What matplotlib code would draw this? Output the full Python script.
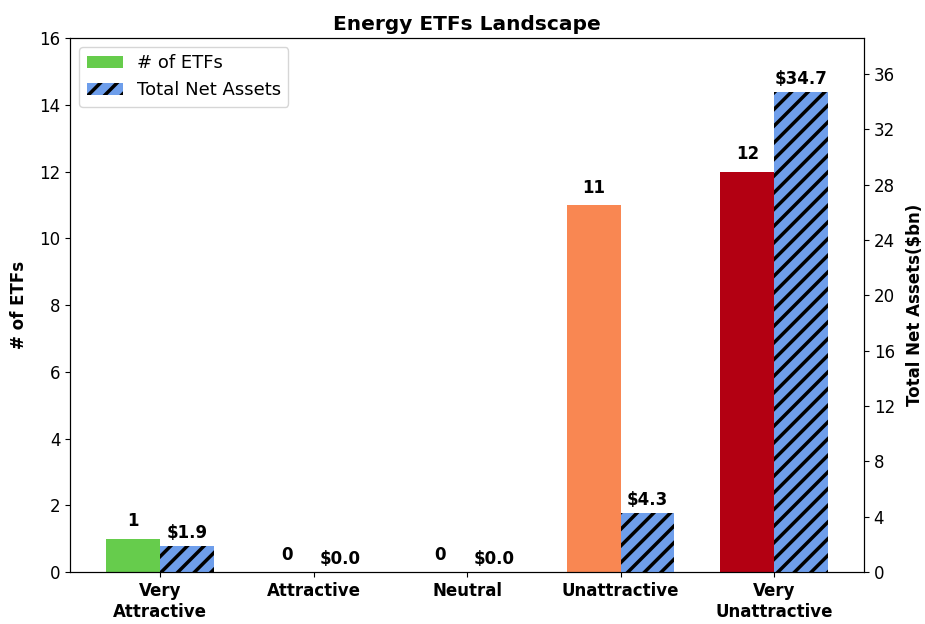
import matplotlib
matplotlib.use("Agg")
import matplotlib.pyplot as plt
import numpy as np

categories = ["Very\nAttractive", "Attractive", "Neutral", "Unattractive", "Very\nUnattractive"]
num_etfs = [1, 0, 0, 11, 12]
net_assets = [1.9, 0.0, 0.0, 4.3, 34.7]
bar_colors = ["#66cc4c", "#66cc4c", "#66cc4c", "#f98752", "#b30012"]

plt.rcParams["hatch.linewidth"] = 2.5
fig, ax = plt.subplots(figsize=(9.25, 6.24), dpi=100)
ax2 = ax.twinx()

x = np.arange(len(categories))
w = 0.35
b1 = ax.bar(x - w / 2, num_etfs, w, color=bar_colors, label="# of ETFs")
b2 = ax2.bar(x + w / 2, net_assets, w, color="#6e9eeb", hatch="//",
             edgecolor="black", linewidth=0, label="Total Net Assets")

for rect, v in zip(b1, num_etfs):
    ax.text(rect.get_x() + rect.get_width() / 2, v + 0.25, str(v),
            ha="center", va="bottom", fontsize=12, fontweight="bold")
for rect, v in zip(b2, net_assets):
    ax2.text(rect.get_x() + rect.get_width() / 2, v + 0.3, "$%.1f" % v,
             ha="center", va="bottom", fontsize=12, fontweight="bold")

ax.set_ylim(0, 16)
ax2.set_ylim(0, max(net_assets) * 1.112)
ax2.set_yticks(np.arange(0, 37, 4))
ax.set_xticks(x)
ax.set_xticklabels(categories, fontsize=12, fontweight="bold")
ax.tick_params(axis="y", labelsize=12)
ax2.tick_params(axis="y", labelsize=12)
ax.set_ylabel("# of ETFs", fontsize=12, fontweight="bold", labelpad=8)
ax2.set_ylabel("Total Net Assets($bn)", fontsize=12, fontweight="bold", labelpad=8)
ax.set_title("Energy ETFs Landscape", fontsize=14.5, fontweight="bold")

h1, l1 = ax.get_legend_handles_labels()
h2, l2 = ax2.get_legend_handles_labels()
ax.legend(h1 + h2, l1 + l2, loc="upper left", fontsize=13)

fig.subplots_adjust(left=0.076, right=0.934, top=0.939, bottom=0.083)
fig.savefig("out.png")
